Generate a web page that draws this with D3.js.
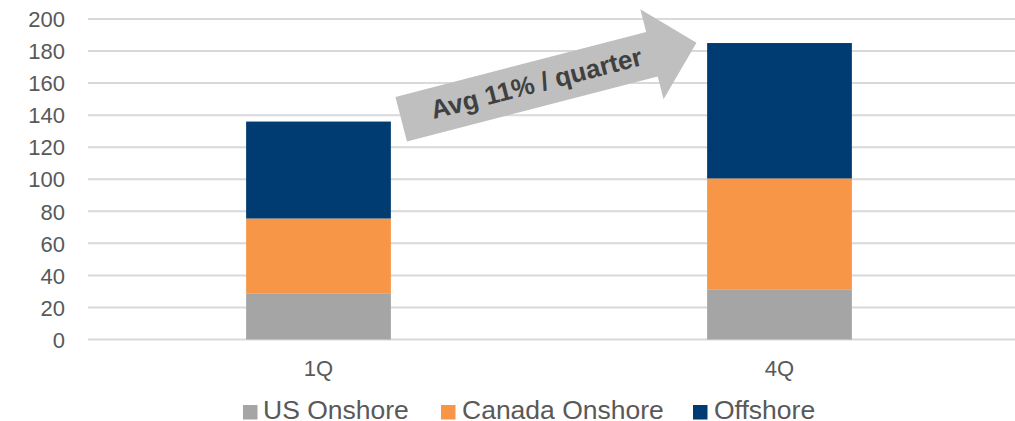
<!DOCTYPE html>
<html>
<head>
<meta charset="utf-8">
<script src="https://cdn.jsdelivr.net/npm/d3@7"></script>
<style>
  html, body { margin: 0; padding: 0; background: #ffffff; }
  svg { display: block; font-family: "Liberation Sans", Arial, sans-serif; }
</style>
</head>
<body>
<svg id="chart" width="1015" height="421"></svg>
<script>
// ---- data ----
const categories = ["1Q", "4Q"];
const seriesNames = ["US Onshore", "Canada Onshore", "Offshore"];
const usOnshore = [28.5, 31];
const canadaOnshore = [47, 69.5];
const offshore = [60.5, 84.5];
const yTicks = [0, 20, 40, 60, 80, 100, 120, 140, 160, 180, 200];
const arrowLabel = "Avg 11% / quarter";
const colors = ["#A5A5A5", "#F79646", "#003B71"];

// ---- layout ----
const svg = d3.select("#chart");
const plotLeft = 88, plotRight = 1010, plotTop = 19, plotBottom = 339.5;

const x = d3.scaleBand().domain(categories).range([plotLeft, plotRight]).padding(0);
const y = d3.scaleLinear().domain([0, 200]).range([plotBottom, plotTop]);

// gridlines
svg.append("g").selectAll("line").data(yTicks).join("line")
  .attr("x1", plotLeft).attr("x2", 1015)
  .attr("y1", d => y(d)).attr("y2", d => y(d))
  .attr("stroke", "#D9D9D9").attr("stroke-width", 2);

// y axis labels
const yAxis = d3.axisLeft(y).tickValues(yTicks).tickSize(0).tickPadding(0);
const gy = svg.append("g").attr("transform", "translate(65,0)").call(yAxis);
gy.select(".domain").remove();
gy.selectAll("text").attr("font-size", 22).attr("fill", "#595959")
  .attr("font-family", "'Liberation Sans', Arial, sans-serif")
  .attr("dy", "0.35em");

// stacked data
const rows = categories.map((c, i) => ({
  cat: c,
  "US Onshore": usOnshore[i],
  "Canada Onshore": canadaOnshore[i],
  "Offshore": offshore[i]
}));
const stacked = d3.stack().keys(seriesNames)(rows);
const barW = x.bandwidth() * 0.314;

svg.append("g").selectAll("g").data(stacked).join("g")
  .attr("fill", (d, i) => colors[i])
  .selectAll("rect").data(d => d).join("rect")
  .attr("x", d => x(d.data.cat) + x.bandwidth() / 2 - barW / 2)
  .attr("width", barW)
  .attr("y", d => y(d[1]))
  .attr("height", d => y(d[0]) - y(d[1]));

// x axis labels
const xAxis = d3.axisBottom(x).tickSize(0).tickPadding(0);
const gx = svg.append("g").attr("transform", `translate(0,${plotBottom})`).call(xAxis);
gx.select(".domain").remove();
gx.selectAll("text").attr("font-size", 22).attr("fill", "#595959")
  .attr("font-family", "'Liberation Sans', Arial, sans-serif")
  .attr("dy", null).attr("y", 36);

// arrow annotation
const arrowStart = [401.2, 119.2], angle = -14.5;
const arrowLen = 305, shaftHalf = 23, headBase = 259, headHalf = 46.5;
const arrowPts = [[0, -shaftHalf], [headBase, -shaftHalf], [headBase, -headHalf], [arrowLen, 0],
  [headBase, headHalf], [headBase, shaftHalf], [0, shaftHalf]];
const ag = svg.append("g").attr("transform", `translate(${arrowStart[0]},${arrowStart[1]}) rotate(${angle})`);
ag.append("path").attr("d", d3.line()(arrowPts) + "Z").attr("fill", "#BFBFBF");
ag.append("text").attr("x", 140).attr("y", 8)
  .attr("text-anchor", "middle").attr("font-weight", "bold").attr("font-size", 26)
  .attr("fill", "#404040").text(arrowLabel);

// legend
const legendItems = [
  { name: seriesNames[0], color: colors[0], sx: 243, tx: 263 },
  { name: seriesNames[1], color: colors[1], sx: 441, tx: 462 },
  { name: seriesNames[2], color: colors[2], sx: 693, tx: 714 }
];
const lg = svg.append("g");
legendItems.forEach(it => {
  lg.append("rect").attr("x", it.sx).attr("y", 405).attr("width", 14.5).attr("height", 14.5).attr("fill", it.color);
  lg.append("text").attr("x", it.tx).attr("y", 419).attr("font-size", 26.5).attr("fill", "#595959").text(it.name);
});
</script>
</body>
</html>
